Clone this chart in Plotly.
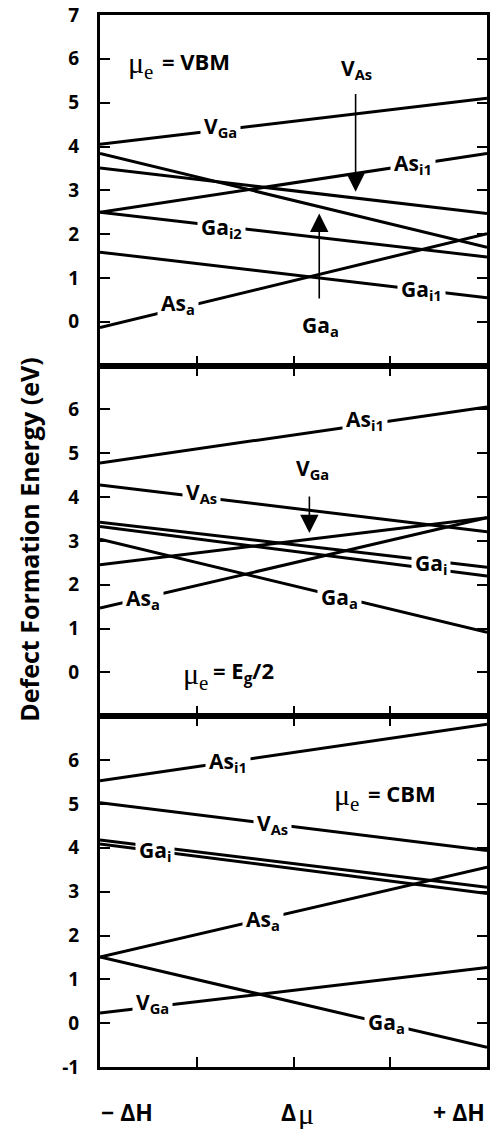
import plotly.graph_objects as go
from plotly.subplots import make_subplots

# ---------------- data ----------------
x_ends = [-1, 1]                       # -ΔH ... +ΔH
x_tick_vals = [-1, -0.5, 0, 0.5, 1]
x_tick_text = ["− ΔH", "Δμ", "+ ΔH"]

# panel 1 : mu_e = VBM   (formation energy at -ΔH and +ΔH)
top_names = ["V_Ga", "V_As", "Ga_a", "As_i1", "Ga_i2", "Ga_i1", "As_a"]
top_left = [4.05, 3.51, 3.84, 2.50, 2.50, 1.59, -0.13]
top_right = [5.10, 2.47, 1.70, 3.84, 1.48, 0.55, 2.01]

# panel 2 : mu_e = Eg/2
mid_names = ["As_i1", "V_As", "Ga_i", "Ga_i'", "Ga_a", "V_Ga", "As_a"]
mid_left = [4.78, 4.28, 3.43, 3.33, 3.04, 2.46, 1.47]
mid_right = [6.06, 3.21, 2.40, 2.20, 0.92, 3.53, 3.53]

# panel 3 : mu_e = CBM
bot_names = ["As_i1", "V_As", "Ga_i", "Ga_i'", "As_a", "Ga_a", "V_Ga"]
bot_left = [5.53, 5.03, 4.18, 4.09, 1.51, 1.51, 0.23]
bot_right = [6.82, 3.94, 3.10, 2.96, 3.56, -0.55, 1.27]

top_ticks = [0, 1, 2, 3, 4, 5, 6, 7]
mid_ticks = [0, 1, 2, 3, 4, 5, 6]
bot_ticks = [-1, 0, 1, 2, 3, 4, 5, 6]

# ---------------- figure ----------------
fig = make_subplots(rows=3, cols=1, shared_xaxes=True, vertical_spacing=0)

panels = [(top_names, top_left, top_right),
          (mid_names, mid_left, mid_right),
          (bot_names, bot_left, bot_right)]
for row, (names, lefts, rights) in enumerate(panels, start=1):
    for n, l, r in zip(names, lefts, rights):
        fig.add_trace(go.Scatter(x=x_ends, y=[l, r], mode="lines", name=n,
                                 line=dict(color="black", width=3),
                                 showlegend=False, hoverinfo="skip"),
                      row=row, col=1)

SANS = "Open Sans"
SERIF = "Liberation Serif"
LAB = 21


def ref(row):
    s = "" if row == 1 else str(row)
    return "x" + s, "y" + s


def label(text, x, y, row, size=LAB, anchor="center", bg=True, family=SANS,
          weight="bold"):
    xr, yr = ref(row)
    fig.add_annotation(text=text, x=x, y=y, xref=xr, yref=yr, showarrow=False,
                       bgcolor="white" if bg else "rgba(0,0,0,0)",
                       borderpad=3 if bg else 0,
                       xanchor=anchor, yanchor="middle",
                       font=dict(family=family, size=size, color="black",
                                 weight=weight))


def arrow(x, y_tail, y_head, row):
    xr, yr = ref(row)
    fig.add_annotation(text="", x=x, y=y_head, ax=x, ay=y_tail, xref=xr, yref=yr,
                       axref=xr, ayref=yr, showarrow=True, arrowhead=2,
                       arrowsize=2.3, arrowwidth=1.6, arrowcolor="black")


def mu_label(rest, x_mu, x_rest, y, row):
    label("μ<sub>e</sub>", x_mu, y - 0.08, row, size=30, anchor="left", bg=False,
          family=SERIF, weight="normal")
    label(rest, x_rest, y, row, size=22, anchor="left", bg=False)


# panel 1 labels
mu_label("= VBM", -0.862, -0.683, 5.94, 1)
label("V<sub>As</sub>", 0.327, 5.76, 1, bg=False)
arrow(0.321, 5.23, 2.97, 1)
label("V<sub>Ga</sub>", -0.378, 4.44, 1)
label("As<sub>i1</sub>", 0.617, 3.60, 1)
label("Ga<sub>i2</sub>", -0.372, 2.15, 1)
arrow(0.133, 0.50, 2.47, 1)
label("Ga<sub>a</sub>", 0.138, -0.09, 1, bg=False)
label("Ga<sub>i1</sub>", 0.663, 0.72, 1)
label("As<sub>a</sub>", -0.597, 0.40, 1)

# panel 2 labels
label("As<sub>i1</sub>", 0.372, 5.76, 2)
label("V<sub>Ga</sub>", 0.097, 4.64, 2, bg=False)
arrow(0.082, 4.05, 3.18, 2)
label("V<sub>As</sub>", -0.474, 4.09, 2)
label("Ga<sub>i</sub>", 0.709, 2.47, 2)
label("Ga<sub>a</sub>", 0.240, 1.71, 2)
label("As<sub>a</sub>", -0.776, 1.67, 2)
mu_label("= E<sub>g</sub>/2", -0.575, -0.422, 0.0, 2)

# panel 3 labels
label("As<sub>i1</sub>", -0.337, 5.95, 3)
mu_label("= CBM", 0.202, 0.381, 5.24, 3)
label("V<sub>As</sub>", -0.107, 4.55, 3)
label("Ga<sub>i</sub>", -0.714, 3.93, 3)
label("As<sub>a</sub>", -0.158, 2.35, 3)
label("V<sub>Ga</sub>", -0.730, 0.47, 3)
label("Ga<sub>a</sub>", 0.480, 0.01, 3)

# bottom category labels
xlab_font = dict(family=SANS, size=23, color="black", weight="bold")
ylab = -0.043
fig.add_annotation(text=x_tick_text[0], x=0.069, y=ylab, xref="paper", yref="paper",
                   showarrow=False, xanchor="center", yanchor="middle", font=xlab_font)
fig.add_annotation(text=x_tick_text[1][0], x=0.509, y=ylab, xref="paper", yref="paper",
                   showarrow=False, xanchor="right", yanchor="middle", font=xlab_font,
                   borderpad=0)
fig.add_annotation(text=x_tick_text[1][1], x=0.509, y=ylab - 0.001, xref="paper",
                   yref="paper", showarrow=False, xanchor="left", yanchor="middle",
                   borderpad=0,
                   font=dict(family=SERIF, size=30, color="black", weight="normal"))
fig.add_annotation(text=x_tick_text[2], x=1.0, y=ylab, xref="paper", yref="paper",
                   showarrow=False, xanchor="right", yanchor="middle", font=xlab_font)

# y-axis title
fig.add_annotation(text="Defect Formation Energy (eV)", x=-0.184, y=0.501,
                   xref="paper", yref="paper", showarrow=False, textangle=-90,
                   xanchor="center", yanchor="middle",
                   font=dict(family=SANS, size=25, color="black", weight="bold"))

# axes
tick_sets = [top_ticks, mid_ticks, bot_ticks]
for row in (1, 2, 3):
    tv = tick_sets[row - 1]
    fig.update_yaxes(range=[-1, 7], tickvals=tv, ticktext=[str(v) for v in tv],
                     showline=True,
                     linewidth=3, linecolor="black", mirror="ticks", ticks="inside",
                     ticklen=10, tickwidth=2, tickcolor="black", showgrid=False,
                     zeroline=False, ticklabelstandoff=14,
                     tickfont=dict(family=SANS, size=19, color="black", weight="bold"),
                     row=row, col=1)
    fig.update_xaxes(range=[-1, 1], tickvals=x_tick_vals, showticklabels=False,
                     showline=True, linewidth=3, linecolor="black",
                     mirror=True if row == 1 else "ticks", ticks="inside",
                     ticklen=10, tickwidth=2, tickcolor="black", showgrid=False,
                     zeroline=False, row=row, col=1)

fig.update_layout(width=491, height=1129, margin=dict(l=100, r=1, t=15, b=62),
                  plot_bgcolor="white", paper_bgcolor="white", showlegend=False)

fig.write_html("out.html")
